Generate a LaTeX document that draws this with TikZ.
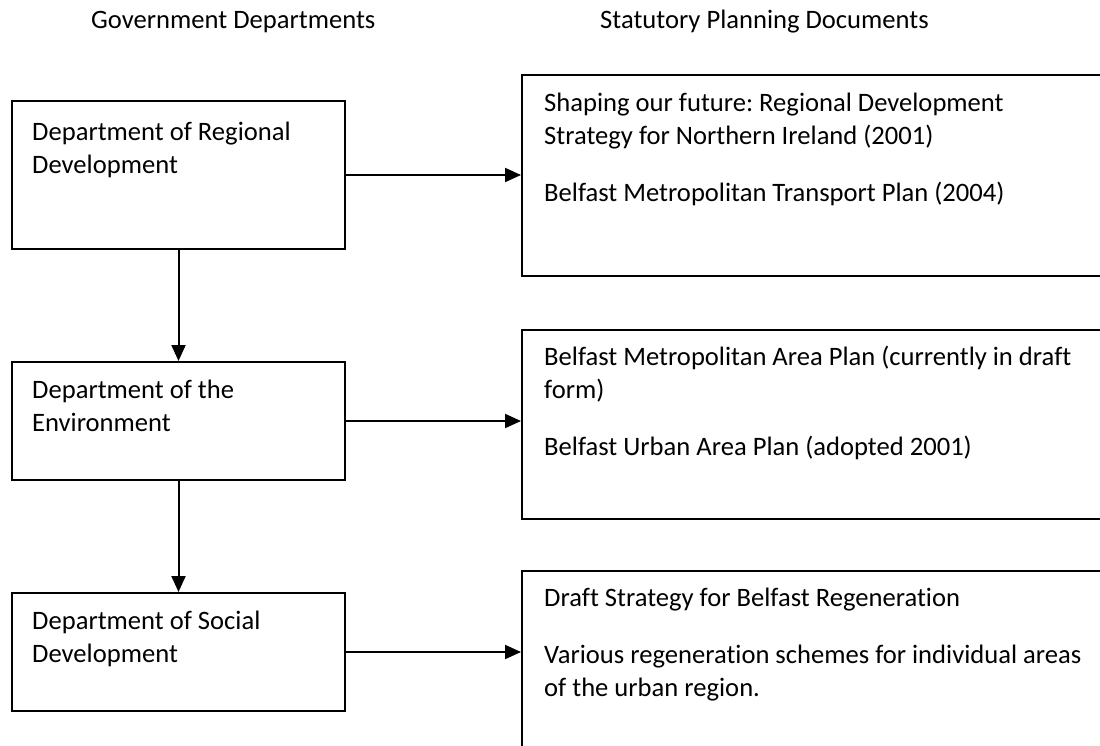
\documentclass[tikz,border=0pt]{standalone}
\usepackage{fontspec}
\setmainfont{Carlito}[Ligatures={NoCommon}]
\usetikzlibrary{arrows.meta}
\frenchspacing
\begin{document}
\begin{tikzpicture}[x=1pt,y=-1pt,
  box/.style={draw=black, line width=2pt, rectangle, inner sep=0pt, anchor=north west},
  txt/.style={anchor=base west, inner sep=0pt, font=\fontsize{26.6}{33}\selectfont},
  arr/.style={line width=2pt, -{Triangle[length=16pt,width=14pt]}}]
\useasboundingbox (0,0) rectangle (1100,745);
\clip (0,0) rectangle (1100,745);
% headers
\node[txt] (h1) at (91,28) {Government Departments};
\node[txt] (h2) at (600,28) {Statutory Planning Documents};
% left boxes
\node[box, minimum width=333pt, minimum height=148pt] (b1) at (11,100) {};
\node[box, minimum width=333pt, minimum height=118pt] (b2) at (11,361) {};
\node[box, minimum width=333pt, minimum height=118pt] (b3) at (11,592) {};
% right boxes
\node[box, minimum width=620pt, minimum height=201pt] (r1) at (521,74) {};
\node[box, minimum width=620pt, minimum height=189pt] (r2) at (521,329) {};
\node[box, minimum width=620pt, minimum height=220pt] (r3) at (521,570) {};
% left texts
\node[txt] (t1a) at (32,140) {Department of Regional};
\node[txt] (t1b) at (32,173) {Development};
\node[txt] (t2a) at (32,398) {Department of the};
\node[txt] (t2b) at (32,431) {Environment};
\node[txt] (t3a) at (32,629) {Department of Social};
\node[txt] (t3b) at (32,662) {Development};
% right texts
\node[txt] (s1a) at (544,111) {Shaping our future: Regional Development};
\node[txt] (s1b) at (544,144) {Strategy for Northern Ireland (2001)};
\node[txt] (s1c) at (544,201) {Belfast Metropolitan Transport Plan (2004)};
\node[txt] (s2a) at (544,365) {Belfast Metropolitan Area Plan (currently in draft};
\node[txt] (s2b) at (544,398) {form)};
\node[txt] (s2c) at (544,455) {Belfast Urban Area Plan (adopted 2001)};
\node[txt] (s3a) at (544,606) {Draft Strategy for Belfast Regeneration};
\node[txt] (s3b) at (544,663) {Various regeneration schemes for individual areas};
\node[txt] (s3c) at (544,696) {of the urban region.};
% connectors
\draw[arr] (b1.south) -- (b2.north);
\draw[arr] (b2.south) -- (b3.north);
\draw[arr] (b1.east) -- (b1.east -| r1.west);
\draw[arr] (b2.east) -- (b2.east -| r2.west);
\draw[arr] (b3.east) -- (b3.east -| r3.west);
\end{tikzpicture}
\end{document}
